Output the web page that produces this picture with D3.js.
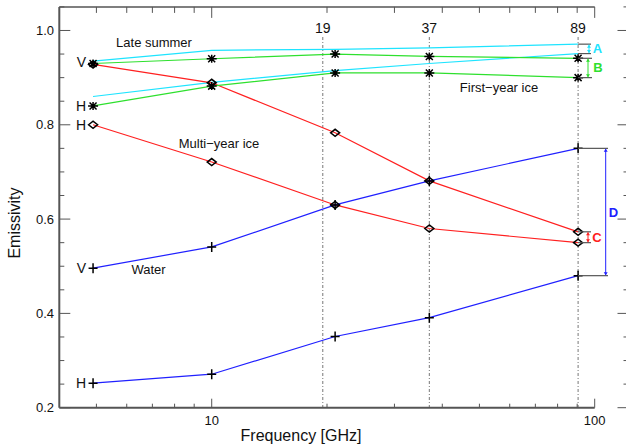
<!DOCTYPE html>
<html><head><meta charset="utf-8">
<script src="https://cdn.jsdelivr.net/npm/d3@7"></script>
<style>body{margin:0;background:#fff}svg{display:block}text{font-family:"Liberation Sans",Arial,Helvetica,sans-serif}</style>
</head><body><svg id="c" width="626" height="444"></svg>
<script>
const freqs = [4.9, 10, 21, 37, 90.5];
const lateSummerV = [0.935, 0.958, 0.96, 0.963, 0.971];
const lateSummerH = [0.86, 0.89, 0.915, 0.93, 0.951];
const firstYearV = [0.93, 0.94, 0.95, 0.945, 0.941];
const firstYearH = [0.84, 0.882, 0.91, 0.91, 0.90];
const multiYearV = [0.928, 0.889, 0.783, 0.681, 0.573];
const multiYearH = [0.80, 0.721, 0.63, 0.58, 0.55];
const waterV = [0.496, 0.541, 0.63, 0.681, 0.75];
const waterH = [0.252, 0.271, 0.351, 0.391, 0.48];
const channelFreqs = [19.5, 37, 90.5];
const channelLabels = ["19", "37", "89"];
const yTicks = [0.2, 0.4, 0.6, 0.8, 1.0];
const xTicks = [10, 100];

const svg = d3.select("#c");
const x = d3.scaleLog().domain([4, 100]).range([59.3, 594.7]);
const y = d3.scaleLinear().domain([0.2, 1.05]).range([407.7, 6.9]);
const axisCol = "#555";
const cCyan = "#1ee4ff", cGreen = "#2ee02e", cRed = "#ff2020", cBlue = "#2020ff";

// channel dash-dot lines
channelFreqs.forEach((f, i) => {
  svg.append("line").attr("x1", x(f)).attr("x2", x(f)).attr("y1", 37).attr("y2", y(0.2))
    .attr("stroke", "#777").attr("stroke-width", 1).attr("stroke-dasharray", "3,2,1,2");
  svg.append("text").attr("x", x(f)).attr("y", 33).attr("text-anchor", "middle")
    .attr("font-size", 14).attr("fill", "#111").text(channelLabels[i]);
});

// axes
const minorY = d3.range(0.2, 1.0501, 0.05).map(v => +v.toFixed(2));
const xMinor = [5,6,7,8,9,20,30,40,50,60,70,80,90];
const ax = svg.append("g").attr("stroke", axisCol).attr("fill", "none");
ax.append("line").attr("x1", x(4)).attr("x2", x(4)).attr("y1", y(1.05)).attr("y2", y(0.2)).attr("stroke-width", 2);
ax.append("line").attr("x1", x(4)).attr("x2", x(100)).attr("y1", y(0.2)).attr("y2", y(0.2)).attr("stroke-width", 2);
ax.append("line").attr("x1", x(4)).attr("x2", x(100)).attr("y1", y(1.05)).attr("y2", y(1.05)).attr("stroke-width", 1.5);
const rx = 628.5;
ax.append("line").attr("x1", rx).attr("x2", rx).attr("y1", y(1.05)).attr("y2", y(0.2)).attr("stroke-width", 2);
minorY.forEach(v => {
  const major = yTicks.some(t => Math.abs(t - v) < 1e-6);
  const L = major ? 11 : 5;
  ax.append("line").attr("x1", x(4)).attr("x2", x(4) + L).attr("y1", y(v)).attr("y2", y(v)).attr("stroke-width", 1);
  ax.append("line").attr("x1", rx).attr("x2", rx - L).attr("y1", y(v)).attr("y2", y(v)).attr("stroke-width", 1);
});
xMinor.concat(xTicks).forEach(f => {
  const major = xTicks.includes(f);
  const L = major ? 9 : 4;
  ax.append("line").attr("x1", x(f)).attr("x2", x(f)).attr("y1", y(0.2)).attr("y2", y(0.2) - L).attr("stroke-width", 1);
  ax.append("line").attr("x1", x(f)).attr("x2", x(f)).attr("y1", y(1.05)).attr("y2", y(1.05) + L + 2).attr("stroke-width", 1);
});
yTicks.forEach(v => {
  svg.append("text").attr("x", 54).attr("y", y(v) + 4.5).attr("text-anchor", "end")
    .attr("font-size", 13).attr("fill", "#111").text(v.toFixed(1));
});
xTicks.forEach(f => {
  svg.append("text").attr("x", x(f)).attr("y", 424.5).attr("text-anchor", "middle")
    .attr("font-size", 13).attr("fill", "#111").text(f);
});
svg.append("text").attr("transform", "translate(20,223) rotate(-90)").attr("text-anchor", "middle")
  .attr("font-size", 16).attr("fill", "#111").text("Emissivity");
svg.append("text").attr("x", 301).attr("y", 441).attr("text-anchor", "middle")
  .attr("font-size", 16).attr("fill", "#111").text("Frequency [GHz]");

// series
const line = d3.line().x((d, i) => x(freqs[i])).y(d => y(d));
const series = [
  {v: lateSummerV, c: cCyan, m: null},
  {v: lateSummerH, c: cCyan, m: null},
  {v: multiYearV, c: cRed, m: "diamond"},
  {v: multiYearH, c: cRed, m: "diamond"},
  {v: waterV, c: cBlue, m: "plus"},
  {v: waterH, c: cBlue, m: "plus"},
  {v: firstYearV, c: cGreen, m: "star"},
  {v: firstYearH, c: cGreen, m: "star"}
];
series.forEach(s => {
  svg.append("path").attr("d", line(s.v)).attr("fill", "none").attr("stroke", s.c).attr("stroke-width", 1.2);
});
function marker(kind, px, py) {
  let d;
  if (kind === "diamond") d = `M${px-4.5},${py}L${px},${py-3.5}L${px+4.5},${py}L${px},${py+3.5}Z`;
  else if (kind === "plus") d = `M${px-4.5},${py}H${px+4.5}M${px},${py-5}V${py+5}`;
  else d = `M${px-5},${py}H${px+5}M${px},${py-4}V${py+4}M${px-3.5},${py-3.5}L${px+3.5},${py+3.5}M${px-3.5},${py+3.5}L${px+3.5},${py-3.5}`;
  svg.append("path").attr("d", d).attr("fill", "none").attr("stroke", "#000").attr("stroke-width", 1.5);
}
series.forEach(s => { if (s.m) s.v.forEach((v, i) => marker(s.m, x(freqs[i]), y(v))); });

// V/H labels
const lab = [["V", firstYearV[0], -1], ["H", firstYearH[0], 0], ["H", multiYearH[0], 0], ["V", waterV[0], 0], ["H", waterH[0], 0]];
lab.forEach(([t, v, dy]) => {
  svg.append("text").attr("x", 86).attr("y", y(v) + 5 + dy).attr("text-anchor", "end")
    .attr("font-size", 14).attr("fill", "#111").text(t);
});
// group labels
[["Late summer", 154, 47], ["Multi\u2212year ice", 219, 148], ["First\u2212year ice", 499, 92], ["Water", 148.5, 274]]
  .forEach(([t, tx, ty]) => svg.append("text").attr("x", tx).attr("y", ty).attr("text-anchor", "middle")
    .attr("font-size", 13).attr("fill", "#111").text(t));

// difference arrows
const xe = x(freqs[4]);
function diff(v1, v2, ax_, xend, col, label, lx) {
  [v1, v2].forEach(v => svg.append("line").attr("x1", xe).attr("x2", xend).attr("y1", y(v)).attr("y2", y(v))
    .attr("stroke", axisCol).attr("stroke-width", 1.2));
  const y1 = y(v1) + 0.5, y2 = y(v2) - 0.5;
  svg.append("line").attr("x1", ax_).attr("x2", ax_).attr("y1", y1).attr("y2", y2).attr("stroke", col).attr("stroke-width", 1);
  svg.append("path").attr("d", `M${ax_},${y1}l-2,3h4zM${ax_},${y2}l-2,-3h4z`).attr("fill", col);
  svg.append("text").attr("x", lx).attr("y", (y(v1) + y(v2)) / 2 + 4.5).attr("text-anchor", "middle")
    .attr("font-size", 13).attr("font-weight", "bold").attr("fill", col).text(label);
}
diff(lateSummerV[4], lateSummerH[4], 589, 591, cCyan, "A", 597.5);
diff(firstYearV[4], firstYearH[4], 588, 592, cGreen, "B", 598);
diff(multiYearV[4], multiYearH[4], 588, 591, cRed, "C", 597);
diff(waterV[4], waterH[4], 605.7, 608, cBlue, "D", 613.5);
</script></body></html>
